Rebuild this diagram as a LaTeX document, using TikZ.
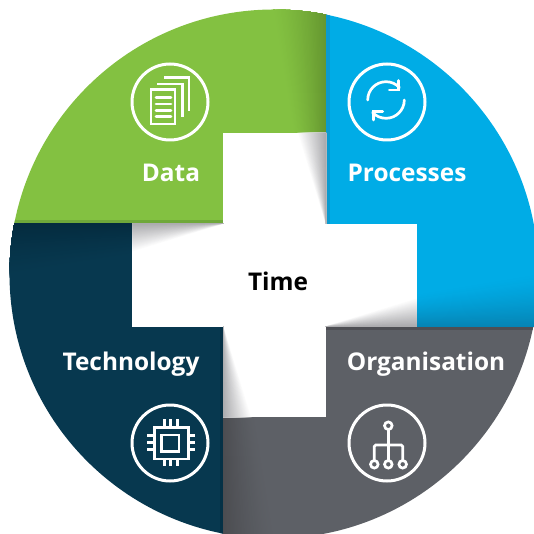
\documentclass[tikz,border=0pt]{standalone}
\usepackage{fontspec}
\setmainfont{Open Sans}
\definecolor{cgreen}{HTML}{83C141}
\definecolor{cgreenD}{HTML}{65962F}
\definecolor{cgreenS}{HTML}{6FA83A}
\definecolor{cblue}{HTML}{00ACE6}
\definecolor{cblueD}{HTML}{0684B4}
\definecolor{cblueS}{HTML}{0A9BD0}
\definecolor{cgrey}{HTML}{5D6066}
\definecolor{cgreyD}{HTML}{4B4C50}
\definecolor{cgreyS}{HTML}{4E4F54}
\definecolor{cnavy}{HTML}{07384F}
\definecolor{cnavyD}{HTML}{042B3E}
\definecolor{cnavyS}{HTML}{053146}
\definecolor{cshade}{HTML}{A8A8AB}
\tikzset{
  label/.style={font=\fontsize{24.4}{27}\selectfont\bfseries,text=white,inner sep=0pt,anchor=base},
  timelabel/.style={font=\fontsize{24.4}{27}\selectfont\bfseries,text=black,inner sep=0pt,anchor=base},
  iconline/.style={draw=white,line width=2.7pt,line cap=round,line join=miter,fill=none},
  iconring/.style={draw=white,line width=3pt,fill=none},
}
\newcommand{\sectorfan}[3]{%
  \begin{scope}[rotate around={#1:(274.5,275)}]
    \foreach \i in {0,...,40}{%
      \pgfmathsetmacro{\pc}{100*(\i/40)^1.4}%
      \pgfmathsetmacro{\xt}{268+58*\i/40}%
      \pgfmathsetmacro{\xb}{293+33*\i/40}%
      \fill[#3!\pc!#2] (\xt,-10) -- (\xb,133) -- (326,133) -- (326,-10) -- cycle;
    }
  \end{scope}}
\newcommand{\crossfan}[1]{%
  \begin{scope}[rotate around={#1:(274.5,275)}]
    \foreach \i in {0,...,24}{%
      \pgfmathsetmacro{\pc}{100*\i/24}%
      \pgfmathsetmacro{\xb}{297+29*\i/24}%
      \fill[cshade!\pc!white] (326,224) -- (\xb,133) -- (326,133) -- cycle;
    }
  \end{scope}}
\newcommand{\foldstrip}[2]{%
  \begin{scope}[rotate around={#1:(274.5,275)}]
    \fill[#2] (326,-10) rectangle (329.5,224);
  \end{scope}}
\begin{document}
\begin{tikzpicture}[x=1pt,y=1pt,yscale=-1,yshift=-533pt]
\useasboundingbox (0,0) rectangle (534,533);
\begin{scope}
  \clip (274,274) circle[radius=264.5];
  \fill[cgreen] (0,0) rectangle (326,224);
  \fill[cblue] (326,0) rectangle (545,326.5);
  \fill[cgrey] (222,326.5) rectangle (545,545);
  \fill[cnavy] (0,224) rectangle (222.5,545);
  \sectorfan{0}{cgreen}{cgreenD}
  \sectorfan{90}{cblue}{cblueD}
  \sectorfan{180}{cgrey}{cgreyD}
  \sectorfan{270}{cnavy}{cnavyD}
  \foldstrip{0}{cblueS}
  \foldstrip{90}{cgreyS}
  \foldstrip{180}{cnavyS}
  \foldstrip{270}{cgreenS}
  \fill[white] (223,133) rectangle (326,417);
  \fill[white] (132,224) rectangle (416.5,326.5);
  \crossfan{0}
  \crossfan{90}
  \crossfan{180}
  \crossfan{270}
\end{scope}
% labels
\node[label] (data) at (171,182) {Data};
\node[label] (processes) at (407,182) {Processes};
\node[label] (technology) at (131,370) {Technology};
\node[label] (organisation) at (426,370) {Organisation};
\node[timelabel] (time) at (278,290) {Time};
% rings
\node[circle,iconring,minimum size=76pt,inner sep=0pt] (ringdata) at (170,102) {};
\node[circle,iconring,minimum size=76pt,inner sep=0pt] (ringproc) at (387,102) {};
\node[circle,iconring,minimum size=76pt,inner sep=0pt] (ringtech) at (170,443) {};
\node[circle,iconring,minimum size=76pt,inner sep=0pt] (ringorg) at (387,443) {};
% documents icon
\draw[iconline,line cap=butt] (151,89.5) rectangle (175,124);
\foreach \y in {97.3,104,110.5,116.7} \draw[iconline] (156,\y) -- (171,\y);
\draw[iconline,line cap=butt] (157.3,84) -- (182.3,84) -- (182.3,117.3);
\draw[iconline,line cap=butt] (164,77.3) -- (189,77.3) -- (189,110.7);
% refresh icon
\draw[iconline] (367.7,100) arc[start angle=180,end angle=317,radius=18.3];
\draw[iconline] (398.3,80.5) -- (398.3,90) -- (389.3,90);
\draw[iconline] (404.3,100) arc[start angle=0,end angle=137,radius=18.3];
\draw[iconline] (373.3,120) -- (373.3,111.7) -- (382.7,111.7);
% chip icon
\draw[iconline,line cap=butt] (154.3,427.3) rectangle (188.3,459);
\draw[iconline,line cap=butt] (161.7,435) rectangle (179,451.7);
\foreach \x in {164.3,170.7,177.7} {
  \draw[iconline,line cap=butt] (\x,419) -- (\x,427.3);
  \draw[iconline,line cap=butt] (\x,459) -- (\x,465.7);
}
\foreach \y in {435.7,442.7,449.3} {
  \draw[iconline,line cap=butt] (147.3,\y) -- (154.3,\y);
  \draw[iconline,line cap=butt] (188.3,\y) -- (195,\y);
}
% organisation icon
\draw[iconline] (388.3,425.7) circle[radius=3.8];
\foreach \x in {374.3,388.3,402.7} \draw[iconline] (\x,464.3) circle[radius=3.8];
\draw[iconline,line cap=butt] (388.3,429.5) -- (388.3,460.5);
\draw[iconline,line cap=butt,rounded corners=1.5pt] (374.3,460.5) -- (374.3,445) -- (402.7,445) -- (402.7,460.5);
\end{tikzpicture}
\end{document}
